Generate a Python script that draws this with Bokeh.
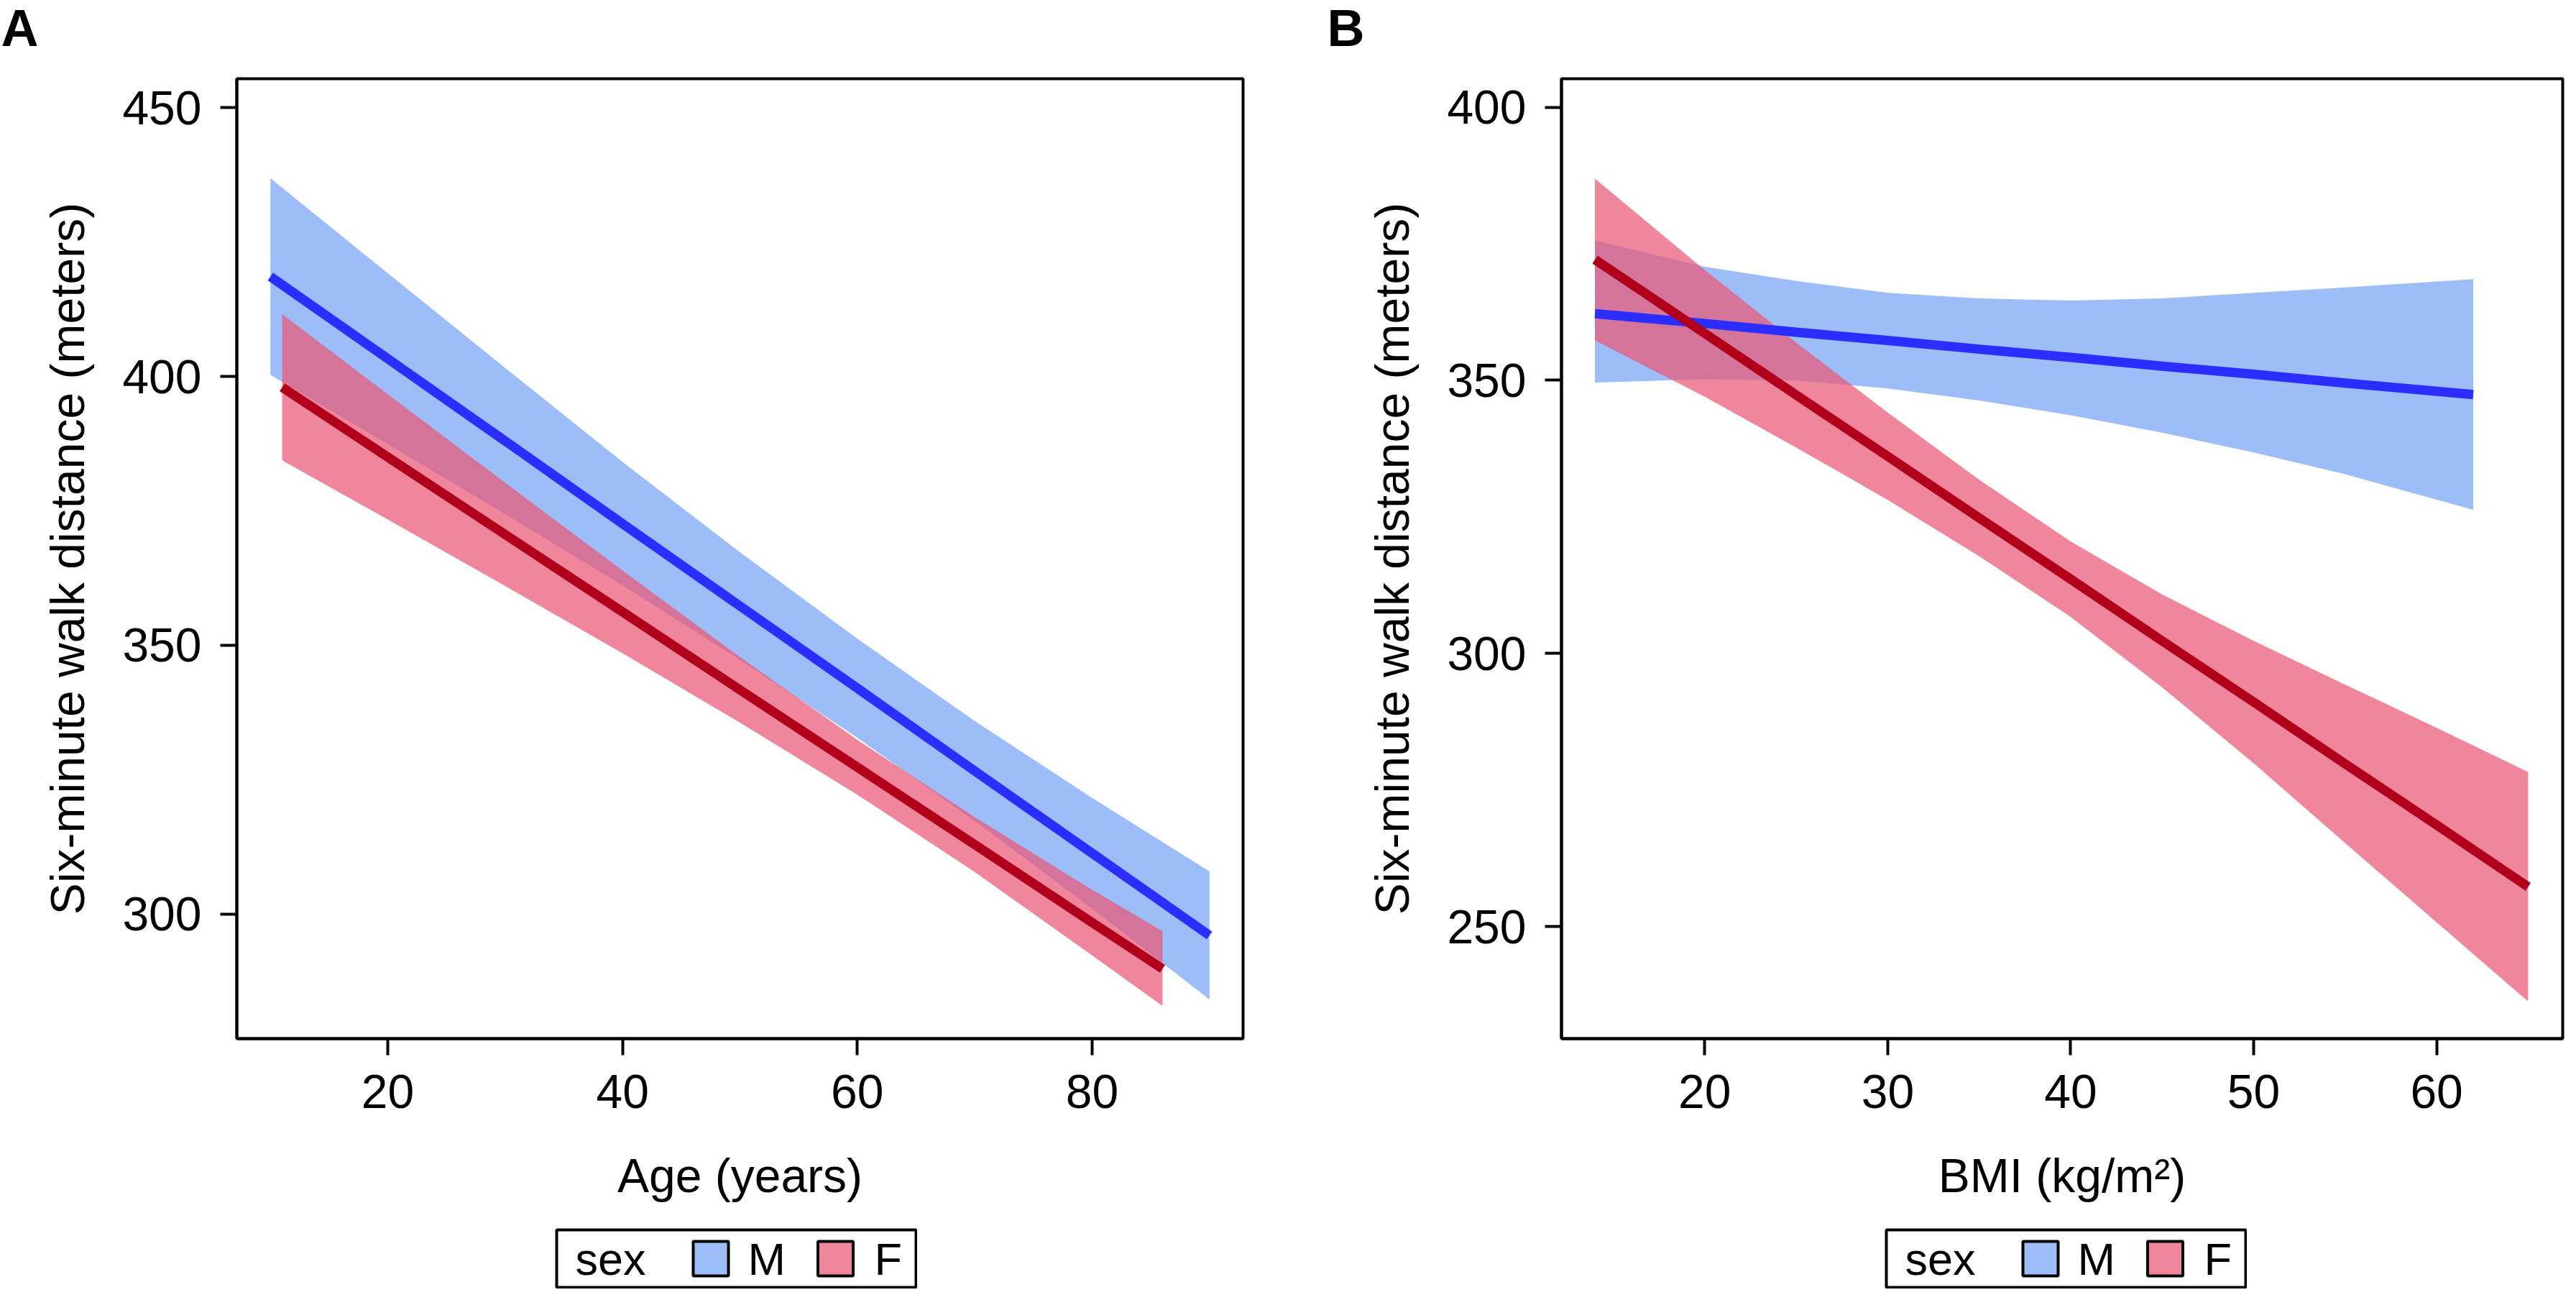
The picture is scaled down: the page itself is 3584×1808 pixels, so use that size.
from bokeh.plotting import figure
from bokeh.models import Range1d, FixedTicker, Spacer, ColumnDataSource
from bokeh.layouts import row, column
from bokeh.embed import file_html
from bokeh.resources import INLINE
from bokeh.core.properties import value

FONT = "Liberation Sans"

# ---------------- data ----------------
sexes = ["M", "F"]
band_colors = ["#9DBDF9", "#E95876"]
band_alphas = [1.0, 0.72]
line_colors = ["#2B2EFF", "#B0001B"]
panel_letters = ["A", "B"]

# Panel A: age
age_m = [10, 20, 30, 40, 50, 60, 70, 80, 90]
walk_age_m_fit = [418.6, 403.3, 388.0, 372.6, 357.3, 342.0, 326.6, 311.3, 296.0]
walk_age_m_hi = [436.9, 419.2, 401.6, 384.1, 367.3, 351.2, 335.9, 321.6, 307.9]
walk_age_m_lo = [400.3, 387.4, 374.4, 361.1, 347.3, 332.8, 317.3, 301.0, 284.1]

age_f = [11, 20, 30, 40, 50, 60, 70, 80, 86]
walk_age_f_fit = [398.0, 385.0, 370.6, 356.2, 341.7, 327.3, 312.9, 298.4, 289.8]
walk_age_f_hi = [411.6, 396.7, 380.2, 363.9, 347.8, 332.4, 318.0, 304.5, 296.8]
walk_age_f_lo = [384.4, 373.4, 361.0, 348.5, 335.6, 322.2, 307.8, 292.3, 282.9]

# Panel B: BMI
bmi_m = [14, 20, 25, 30, 35, 40, 45, 50, 55, 62]
walk_bmi_m_fit = [362.2, 360.4, 358.8, 357.3, 355.7, 354.2, 352.6, 351.1, 349.5, 347.4]
walk_bmi_m_hi = [375.6, 370.8, 368.2, 366.0, 365.0, 364.6, 365.0, 366.0, 367.0, 368.5]
walk_bmi_m_lo = [349.6, 350.2, 350.0, 348.5, 346.3, 343.6, 340.4, 336.8, 332.8, 326.3]

bmi_f = [14, 20, 25, 30, 35, 40, 45, 50, 55, 60, 65]
walk_bmi_f_fit = [372.1, 358.6, 347.3, 336.1, 324.8, 313.6, 302.3, 291.1, 279.8, 268.6, 257.3]
walk_bmi_f_hi = [386.9, 370.2, 356.9, 344.1, 331.8, 320.5, 310.8, 302.3, 294.3, 286.4, 278.3]
walk_bmi_f_lo = [357.3, 347.0, 337.7, 328.1, 317.8, 306.7, 293.8, 279.9, 265.3, 250.8, 236.3]

age_ticks = [20, 40, 60, 80]
age_walk_ticks = [300, 350, 400, 450]
bmi_ticks = [20, 30, 40, 50, 60]
bmi_walk_ticks = [250, 300, 350, 400]

y_title = "Six-minute walk distance (meters)"

# ---------------- layout constants ----------------
TOTAL_W = 3568
HEAD_H = 80
MAIN_H = 1620
LEG_H = 92
FRAME_TOP = 29
FRAME_H = 1335


def make_panel(xr, yr, xticks, yticks, xlabel, series, width, b_left, b_right):
    p = figure(width=width, height=MAIN_H,
               x_range=Range1d(*xr), y_range=Range1d(*yr),
               output_backend="svg", toolbar_location=None,
               min_border_left=b_left, min_border_right=b_right,
               min_border_top=FRAME_TOP, min_border_bottom=MAIN_H - FRAME_TOP - FRAME_H,
               background_fill_color="white", border_fill_color="white")
    p.grid.visible = False
    p.outline_line_color = "black"
    p.outline_line_width = 4
    p.outline_line_alpha = 1.0

    p.xaxis.ticker = FixedTicker(ticks=xticks)
    p.yaxis.ticker = FixedTicker(ticks=yticks)
    p.xaxis.axis_label = xlabel
    p.yaxis.axis_label = y_title
    for ax in (p.xaxis[0], p.yaxis[0]):
        ax.axis_line_width = 4
        ax.axis_line_color = "black"
        ax.major_tick_line_width = 4
        ax.major_tick_line_color = "black"
        ax.major_tick_out = 23
        ax.major_tick_in = 0
        ax.minor_tick_line_color = None
        ax.major_label_text_font = FONT
        ax.major_label_text_font_size = "66px"
        ax.major_label_text_color = "black"
        ax.axis_label_text_font = FONT
        ax.axis_label_text_font_size = "66px"
        ax.axis_label_text_font_style = "normal"
        ax.axis_label_text_color = "black"
    p.xaxis.major_label_standoff = 27
    p.yaxis.major_label_standoff = 26
    p.xaxis.axis_label_standoff = 54
    p.yaxis.axis_label_standoff = 36

    for (x, fit, lo, hi), col, a in zip(series, band_colors, band_alphas):
        p.varea(x=x, y1=lo, y2=hi, fill_color=col, fill_alpha=a)
    for (x, fit, lo, hi), col in zip(series, line_colors):
        p.line(x=x, y=fit, line_color=col, line_width=13)
    return p


pA = make_panel((7.14, 92.86), (276.8, 455.4), age_ticks, age_walk_ticks,
                "Age (years)",
                [(age_m, walk_age_m_fit, walk_age_m_lo, walk_age_m_hi),
                 (age_f, walk_age_f_fit, walk_age_f_lo, walk_age_f_hi)],
                width=1780, b_left=329, b_right=51)

pB = make_panel((12.17, 66.89), (229.5, 405.2), bmi_ticks, bmi_walk_ticks,
                "BMI (kg/m\u00b2)",
                [(bmi_m, walk_bmi_m_fit, walk_bmi_m_lo, walk_bmi_m_hi),
                 (bmi_f, walk_bmi_f_fit, walk_bmi_f_lo, walk_bmi_f_hi)],
                width=1788, b_left=392, b_right=3)

# header strip holding the panel letters (pixel coordinates)
head = figure(width=TOTAL_W, height=HEAD_H, x_range=Range1d(0, TOTAL_W), y_range=Range1d(0, HEAD_H),
              output_backend="svg", toolbar_location=None,
              x_axis_location=None, y_axis_location=None,
              min_border_left=0, min_border_right=0, min_border_top=0, min_border_bottom=0,
              border_fill_color="white", background_fill_color="white")
head.grid.visible = False
head.outline_line_color = None
head.text(x=[1, 1846], y=[42, 42], text=panel_letters, text_font=value(FONT),
          text_font_size=value("72px"), text_font_style=value("bold"),
          text_color="black", text_align="left", text_baseline="middle")


def make_legend():
    L = figure(width=504, height=LEG_H, x_range=Range1d(0, 500), y_range=Range1d(0, 80),
               output_backend="svg", toolbar_location=None,
               x_axis_location=None, y_axis_location=None,
               min_border_left=2, min_border_right=2, min_border_top=10, min_border_bottom=2,
               border_fill_color="white", background_fill_color="white")
    L.grid.visible = False
    L.outline_line_color = "black"
    L.outline_line_width = 4
    L.outline_line_alpha = 1.0
    src = ColumnDataSource(dict(key_x=[214.5, 388.0], lab_x=[266, 442],
                                fill=band_colors, alpha=band_alphas, label=sexes))
    L.rect(x="key_x", y=40, width=49, height=48, fill_color="fill", fill_alpha="alpha",
           line_color="black", line_width=4, source=src)
    L.text(x="lab_x", y=40, text="label", source=src, text_font=value(FONT),
           text_font_size=value("63px"), text_color="black", text_baseline="middle")
    L.text(x=[26], y=[40], text=["sex"], text_font=value(FONT),
           text_font_size=value("63px"), text_color="black", text_baseline="middle")
    return L


legA = make_legend()
legB = make_legend()

layout = column(
    head,
    row(pA, pB),
    row(Spacer(width=772, height=LEG_H), legA, Spacer(width=1346, height=LEG_H), legB),
)

open("out.html", "w").write(file_html(layout, INLINE))
